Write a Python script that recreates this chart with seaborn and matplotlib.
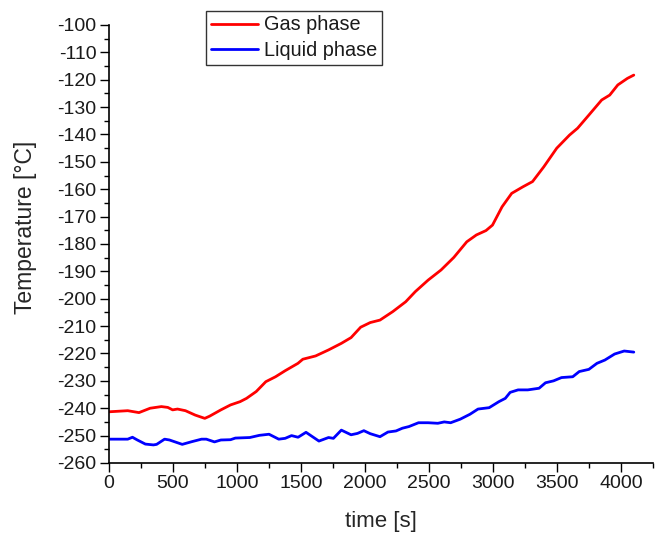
import matplotlib
matplotlib.use("Agg")
import matplotlib.pyplot as plt
import seaborn as sns
import pandas as pd

# Gas phase temperature record
gas_time = [0, 146, 234, 321, 409, 459, 497, 535, 597, 673,
            748, 786, 874, 949, 1024, 1074, 1150, 1225, 1301, 1376,
            1476, 1514, 1614, 1715, 1815, 1891, 1966, 2041, 2117, 2217,
            2318, 2393, 2493, 2594, 2694, 2795, 2870, 2945, 2996, 3071,
            3146, 3234, 3309, 3397, 3498, 3598, 3661, 3749, 3849, 3912,
            3975, 4050, 4100]
gas_temp = [-241.3, -240.9, -241.6, -240.0, -239.4, -239.7, -240.6, -240.3, -240.9, -242.5,
            -243.7, -242.9, -240.6, -238.8, -237.6, -236.4, -233.9, -230.3, -228.5, -226.3,
            -223.6, -222.1, -220.9, -218.7, -216.3, -214.2, -210.4, -208.7, -207.8, -204.7,
            -201.1, -197.4, -193.2, -189.5, -184.9, -179.2, -176.7, -175.1, -173.1, -166.4,
            -161.5, -159.1, -157.2, -151.8, -145.0, -140.2, -137.7, -132.9, -127.4, -125.6,
            -121.9, -119.5, -118.3]

# Liquid phase temperature record
liquid_time = [0, 146, 183, 221, 284, 347, 372, 434, 472, 572,
               648, 723, 760, 824, 874, 949, 987, 1100, 1175, 1250,
               1326, 1376, 1426, 1477, 1539, 1640, 1715, 1753, 1815, 1891,
               1941, 1991, 2041, 2117, 2179, 2242, 2292, 2343, 2418, 2493,
               2569, 2619, 2669, 2744, 2820, 2883, 2970, 3046, 3096, 3134,
               3196, 3272, 3360, 3410, 3473, 3535, 3623, 3674, 3749, 3812,
               3874, 3950, 4025, 4100]
liquid_temp = [-251.3, -251.3, -250.6, -251.6, -253.1, -253.4, -253.2, -251.3, -251.6, -253.2,
               -252.2, -251.3, -251.3, -252.3, -251.6, -251.5, -250.9, -250.7, -249.9, -249.5,
               -251.3, -251.0, -250.0, -250.6, -248.8, -252.0, -250.7, -251.0, -248.0, -249.7,
               -249.2, -248.2, -249.3, -250.4, -248.7, -248.3, -247.3, -246.7, -245.3, -245.3,
               -245.5, -245.0, -245.3, -244.0, -242.2, -240.3, -239.8, -237.6, -236.4, -234.2,
               -233.3, -233.3, -232.7, -230.7, -230.0, -228.8, -228.5, -226.6, -225.8, -223.6,
               -222.4, -220.2, -219.1, -219.5]

x_ticks = [0, 500, 1000, 1500, 2000, 2500, 3000, 3500, 4000]
y_ticks = list(range(-260, -99, 10))

sns.set_style("ticks")
plt.rcParams["font.family"] = ["Liberation Sans", "DejaVu Sans"]
plt.rcParams["text.color"] = "#1a1a1a"
plt.rcParams["axes.unicode_minus"] = False

fig = plt.figure(figsize=(6.62, 5.34), dpi=100)
ax = fig.add_axes([0.1647, 0.1330, 0.8217, 0.8202])

gas = pd.DataFrame({"time": gas_time, "temp": gas_temp})
liq = pd.DataFrame({"time": liquid_time, "temp": liquid_temp})

sns.lineplot(data=gas, x="time", y="temp", ax=ax, color="#ff0000",
             linewidth=2.0, sort=False, estimator=None, label="Gas phase")
sns.lineplot(data=liq, x="time", y="temp", ax=ax, color="#0000ff",
             linewidth=2.0, sort=False, estimator=None, label="Liquid phase")

ax.set_xlim(0, 4100)
ax.set_ylim(-260, -100)
ax.set_xticks(x_ticks)
ax.set_yticks(y_ticks)
ax.set_xticks([t + 250 for t in x_ticks], minor=True)
ax.set_yticks([v + 5 for v in y_ticks[:-1]], minor=True)
ax.tick_params(axis="both", which="major", direction="out", length=6.5,
               width=1.0, labelsize=14, color="black", labelcolor="#1a1a1a",
               pad=2.5)
ax.tick_params(axis="both", which="minor", direction="out", length=3.5,
               width=1.0, color="black")

ax.set_xlabel("time [s]", fontsize=16, labelpad=13)
ax.set_ylabel("Temperature [°C]", fontsize=16.5)
ax.yaxis.set_label_coords(-0.133, 0.539)

sns.despine(ax=ax)
for side in ("left", "bottom"):
    ax.spines[side].set_linewidth(1.2)
    ax.spines[side].set_color("black")

leg = ax.legend(loc="upper left", bbox_to_anchor=(206 / 662, 1 - 10.5 / 534),
                bbox_transform=fig.transFigure, borderaxespad=0,
                fontsize=14.3, handlelength=2.35, handletextpad=0.3,
                borderpad=0.25, labelspacing=0.33, fancybox=False,
                framealpha=1, edgecolor="#333333")
leg.get_frame().set_linewidth(1.0)

fig.savefig("out.png", dpi=100)
